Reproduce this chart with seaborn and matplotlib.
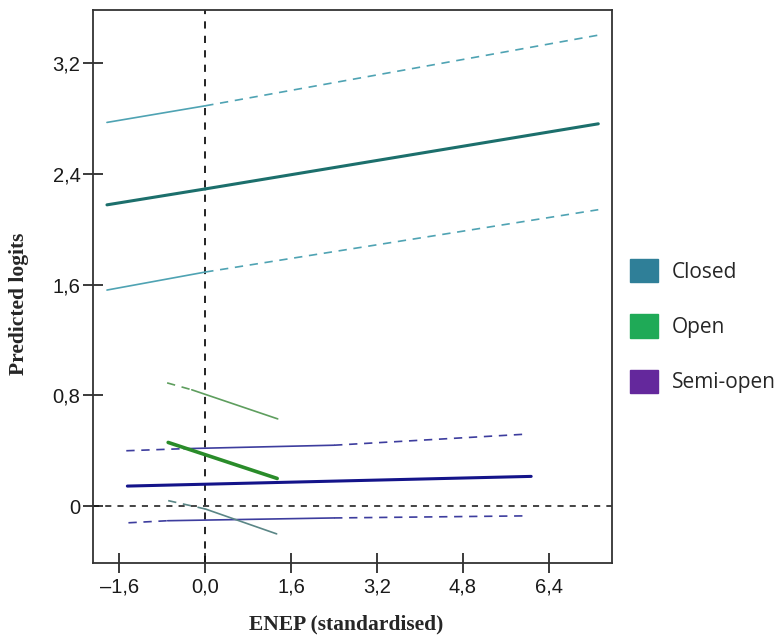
import numpy as np
import pandas as pd
import matplotlib
matplotlib.use("Agg")
import matplotlib.pyplot as plt
import matplotlib.patches as mpatches
import seaborn as sns

# Values (x = ENEP standardised, y = predicted logits)
x_ticks = [-1.6, 0.0, 1.6, 3.2, 4.8, 6.4]
x_tick_labels = ["–1,6", "0,0", "1,6", "3,2", "4,8", "6,4"]
y_ticks = [0.0, 0.8, 1.6, 2.4, 3.2]
y_tick_labels = ["0", "0,8", "1,6", "2,4", "3,2"]

# Closed
closed_mean_x = [-1.83, 0.0, 7.32]
closed_mean_y = [2.175, 2.29, 2.76]
closed_up_x = [-1.83, 0.0, 7.32]
closed_up_y = [2.77, 2.89, 3.40]
closed_lo_x = [-1.83, 0.0, 7.32]
closed_lo_y = [1.56, 1.69, 2.14]

# Open
open_mean_x = [-0.69, 1.34]
open_mean_y = [0.46, 0.20]
open_up_x = [-0.71, -0.25, 1.35]
open_up_y = [0.89, 0.84, 0.63]
open_lo_x = [-0.69, 0.0, 1.33]
open_lo_y = [0.04, -0.02, -0.20]

# Semi-open
semi_mean_x = [-1.45, 6.07]
semi_mean_y = [0.145, 0.215]
semi_up_x = [-1.47, -0.4, 2.4, 5.98]
semi_up_y = [0.40, 0.415, 0.44, 0.52]
semi_lo_x = [-1.43, -0.7, 2.4, 5.98]
semi_lo_y = [-0.12, -0.105, -0.085, -0.07]

groups = ["Closed", "Open", "Semi-open"]
legend_colors = ["#2f7f98", "#1faa57", "#64289c"]

sns.set_style("white")
plt.rcParams["font.family"] = ["Liberation Sans", "DejaVu Sans"]

fig = plt.figure(figsize=(7.75, 6.38), dpi=100)
ax = fig.add_axes([0.12, 0.1176, 0.67, 0.8664])

dash = (0, (5, 4))


def seg(xs, ys, color, lw, styles):
    # draw a polyline piece by piece, each piece with its own style
    for i, st in enumerate(styles):
        d = pd.DataFrame({"x": xs[i:i + 2], "y": ys[i:i + 2]})
        sns.lineplot(data=d, x="x", y="y", ax=ax, color=color, linewidth=lw,
                     linestyle=st, sort=False, estimator=None)


# reference lines
ax.axvline(0, color="#111111", linestyle=(0, (4, 4)), linewidth=1.3, zorder=1)
ax.axhline(0, color="#111111", linestyle=(0, (4, 4)), linewidth=1.1, zorder=1)

# Closed
seg(closed_up_x, closed_up_y, "#4fa3b3", 1.2, ["-", dash])
seg(closed_lo_x, closed_lo_y, "#4fa3b3", 1.2, ["-", dash])
seg(closed_mean_x, closed_mean_y, "#1c6f6c", 2.2, ["-", "-"])

# Semi-open
seg(semi_up_x, semi_up_y, "#3d3d9e", 1.2, [dash, "-", dash])
seg(semi_lo_x, semi_lo_y, "#3d3d9e", 1.2, [dash, "-", dash])
seg(semi_mean_x, semi_mean_y, "#14148a", 2.2, ["-"])

# Open
seg(open_up_x, open_up_y, "#5e9e5e", 1.2, [dash, "-"])
seg(open_lo_x, open_lo_y, "#5a8686", 1.2, [dash, "-"])
seg(open_mean_x, open_mean_y, "#2a8c2a", 2.6, ["-"])

ax.set_xlim(-2.09, 7.58)
ax.set_ylim(-0.41, 3.58)
ax.set_xticks(x_ticks)
ax.set_xticklabels(x_tick_labels)
ax.set_yticks(y_ticks)
ax.set_yticklabels(y_tick_labels)
ax.tick_params(direction="inout", length=15, width=1.2, labelsize=14.5,
               colors="#1a1a1a", bottom=True, left=True)
ax.tick_params(axis="x", pad=3)
ax.tick_params(axis="y", pad=1.5)
for sp in ax.spines.values():
    sp.set_color("#333333")
    sp.set_linewidth(1.3)

ax.set_xlabel("ENEP (standardised)", family=["Liberation Serif"],
              fontweight="bold", fontsize=15.5)
ax.set_ylabel("Predicted logits", family=["Liberation Serif"],
              fontweight="bold", fontsize=15.5)
ax.xaxis.set_label_coords(0.487, -0.094)
ax.yaxis.set_label_coords(-0.123, 0.468)

handles = [mpatches.Patch(facecolor=c, edgecolor=c, label=g)
           for g, c in zip(groups, legend_colors)]
leg = fig.legend(handles=handles, loc="upper left", bbox_to_anchor=(0.813, 0.594),
                 frameon=False, handlelength=1.35, handleheight=1.35,
                 labelspacing=1.52, prop={"family": "Open Sans", "size": 15},
                 handletextpad=0.67, borderpad=0, borderaxespad=0)

fig.savefig("out.png", dpi=100)
